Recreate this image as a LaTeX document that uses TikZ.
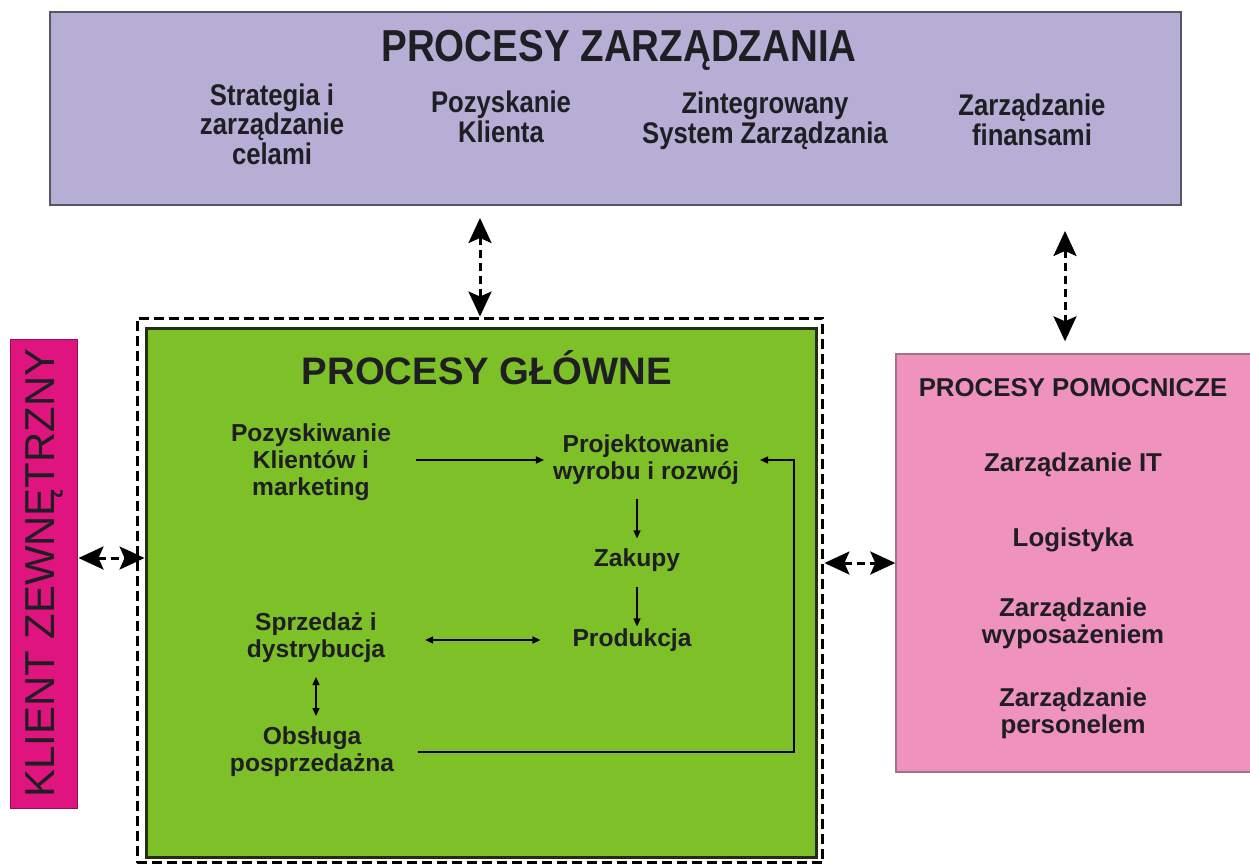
\documentclass[tikz,border=0pt]{standalone}
\usepackage{fontspec}
\setmainfont{Liberation Sans}
\newfontfamily\narrowfont[FakeStretch=0.86]{Liberation Sans}
\usetikzlibrary{arrows.meta}

\definecolor{zarzfill}{RGB}{183,174,214}
\definecolor{zarzline}{RGB}{85,85,100}
\definecolor{glownefill}{RGB}{126,192,40}
\definecolor{glowneline}{RGB}{35,45,15}
\definecolor{pomocfill}{RGB}{240,146,190}
\definecolor{pomocline}{RGB}{160,115,135}
\definecolor{klientfill}{RGB}{224,20,126}
\definecolor{tekst}{RGB}{30,30,35}

\begin{document}
\begin{tikzpicture}[x=0.02cm, y=-0.02cm,
    proc/.style={align=center, text=tekst, inner sep=1pt,
        font=\fontsize{14}{15.3}\selectfont\bfseries},
    procp/.style={proc, font=\fontsize{14.7}{15.3}\selectfont\bfseries},
    procz/.style={align=center, text=tekst, inner sep=1pt,
        font=\narrowfont\fontsize{17}{15.3}\selectfont\bfseries},
    flow/.style={line width=0.03cm, -{Triangle[length=0.16cm,width=0.14cm]}},
    flow2/.style={line width=0.03cm, {Triangle[length=0.16cm,width=0.14cm]}-{Triangle[length=0.16cm,width=0.14cm]}},
    bigarr/.style={line width=0.06cm, dash pattern=on 0.16cm off 0.1cm,
        {Stealth[length=0.5cm,width=0.46cm,inset=0.1cm]}-{Stealth[length=0.5cm,width=0.46cm,inset=0.1cm]}}]
    \useasboundingbox (0,0) rectangle (1250,866);

    % zarzadzanie
    \node[draw=zarzline, line width=0.04cm, fill=zarzfill, minimum width=22.62cm, minimum height=3.86cm, inner sep=0] (zarz) at (615.5,108.5) {};
    \node[text=tekst, font=\narrowfont\fontsize{25.5}{28}\selectfont\bfseries] (zarzT) at (619,50) {PROCESY ZARZĄDZANIA};
    \node[procz] (strat) at (272,124) {Strategia i\\zarządzanie\\celami};
    \node[procz] (pozyskK) at (501,117) {Pozyskanie\\Klienta};
    \node[procz] (zint) at (765,121) {Zintegrowany\\System Zarządzania};
    \node[procz] (finanse) at (1032,120) {Zarządzanie\\finansami};

    % glowne
    \node[draw=black, fill=white, line width=0.06cm, dash pattern=on 0.2cm off 0.1cm, minimum width=13.72cm, minimum height=10.9cm, inner sep=0] (ramka) at (480,590.5) {};
    \node[draw=glowneline, fill=glownefill, line width=0.06cm, minimum width=13.42cm, minimum height=10.6cm, inner sep=0] (glowne) at (481.5,593) {};
    \node[text=tekst, font=\fontsize{21.8}{26}\selectfont\bfseries] (glowneT) at (487,368) {PROCESY GŁÓWNE};

    \node[proc] (pozysk) at (311,462) {Pozyskiwanie\\Klientów i\\marketing};
    \node[proc] (proj) at (646,460) {Projektowanie\\wyrobu i rozwój};
    \node[proc] (zak) at (637,560) {Zakupy};
    \node[proc] (prod) at (632,640) {Produkcja};
    \node[proc] (sprz) at (316,638) {Sprzedaż i\\dystrybucja};
    \node[proc] (obs) at (312,752) {Obsługa\\posprzedażna};
    \coordinate (zwrot) at (794,757);

    \draw[flow, shorten <=0.46cm, shorten >=0.14cm] (pozysk.east |- proj.west) -- (proj.west);
    \draw[flow, shorten <=0.24cm, shorten >=0.16cm] (zak.north |- proj.south) -- (zak.north);
    \draw[flow, shorten <=0.26cm] (zak.south) -- (zak.south |- prod.north);
    \draw[flow2, shorten <=0.76cm, shorten >=0.6cm] (sprz.east |- prod.west) -- (prod.west);
    \draw[flow2, shorten <=0.24cm, shorten >=0.18cm] (sprz.south) -- (sprz.south |- obs.north);
    \draw[flow, shorten <=0.44cm, shorten >=0.38cm] (obs.east) -- (obs.east -| zwrot) |- (proj.east);

    % pomocnicze
    \node[draw=pomocline, fill=pomocfill, line width=0.03cm, minimum width=7.12cm, minimum height=8.36cm, inner sep=0] (pomoc) at (1074,563) {};
    \node[procp] (pomocT) at (1073,388) {PROCESY POMOCNICZE};
    \node[procp] (it) at (1073,465) {Zarządzanie IT};
    \node[procp] (logist) at (1073,540) {Logistyka};
    \node[procp] (wypos) at (1073,623) {Zarządzanie\\wyposażeniem};
    \node[procp] (person) at (1073,713) {Zarządzanie\\personelem};

    % klient
    \node[draw=klientfill!70!black, fill=klientfill, line width=0.02cm, minimum width=1.36cm, minimum height=9.4cm, inner sep=0] (klient) at (44,574) {};
    \node[rotate=90, text=tekst, font=\fontsize{23.8}{28}\selectfont] (klientT) at (44,573) {KLIENT ZEWNĘTRZNY};
    \coordinate (kl) at ([yshift=0.32cm]klient.east);

    \draw[bigarr, shorten <=0.24cm] (zarz.south -| ramka.north) -- (ramka.north);
    \draw[bigarr, shorten <=0.5cm, shorten >=0.24cm] ([xshift=-0.18cm]zarz.south -| pomoc.north) -- ([xshift=-0.18cm]pomoc.north);
    \draw[bigarr] (ramka.east |- pomoc.west) -- (pomoc.west);
    \draw[bigarr] (kl) -- (kl -| glowne.west);
\end{tikzpicture}
\end{document}
